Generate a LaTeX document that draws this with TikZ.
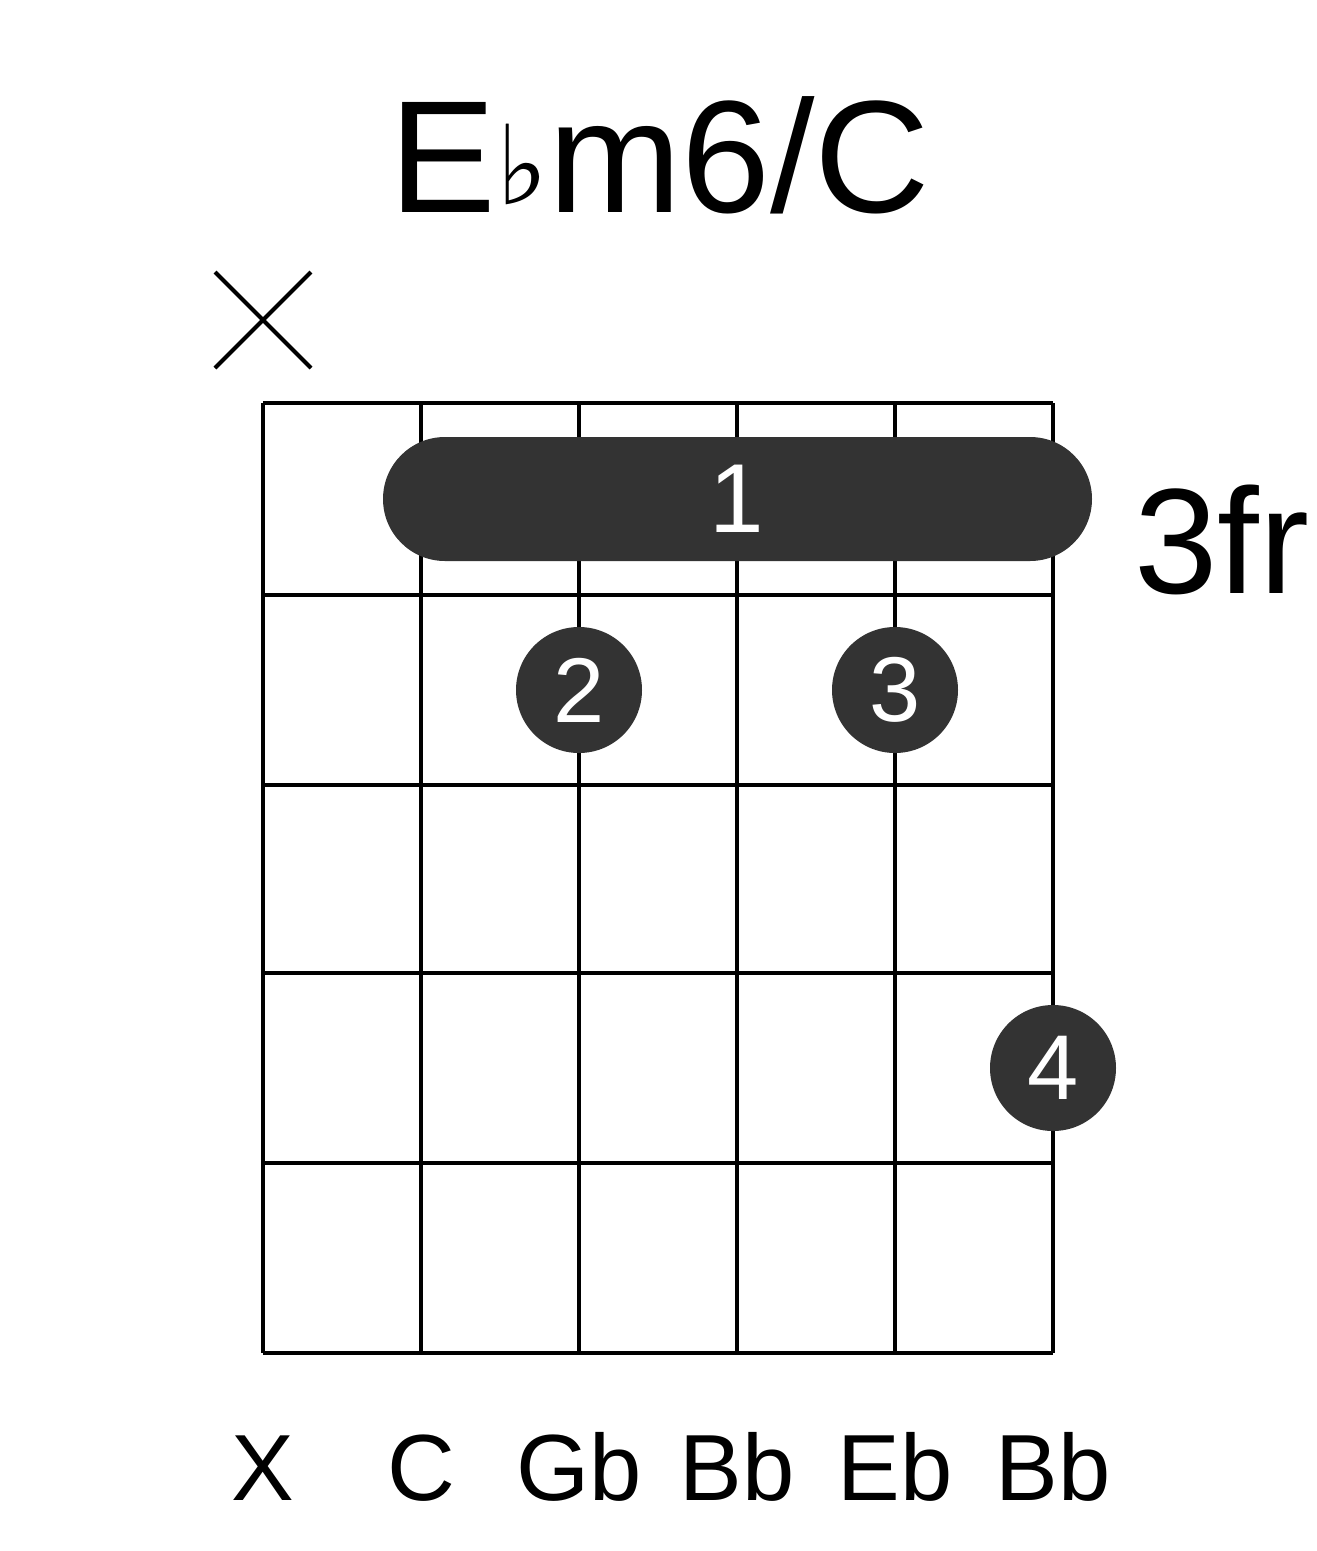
\documentclass[tikz,border=0pt]{standalone}
\usepackage{fontspec}
\setmainfont{Liberation Sans}
\newfontfamily\symfont{DejaVu Sans}
\usetikzlibrary{calc}
\begin{document}
\begin{tikzpicture}[x=1pt,y=-1pt,
	fingerdot/.style={circle, fill=black!80, minimum size=126pt, inner sep=0pt, text=white, font=\fontsize{92}{92}\selectfont},
	stringlabel/.style={font=\fontsize{94}{94}\selectfont, anchor=base}]
	% Canvas
	\useasboundingbox (0,0) rectangle (1317,1551);
	
	% Title
	\node (title) at (660,155) {\fontsize{160}{160}\selectfont E{\symfont\raisebox{0.05em}{\fontsize{110}{110}\selectfont ♭}}m6/C};
	
	% Muted string
	\coordinate (mx) at (263,320);
	\draw[line width=4pt] ($(mx)+(-48,-48)$) -- ($(mx)+(48,48)$) ($(mx)+(-48,48)$) -- ($(mx)+(48,-48)$);
	
	% Strings and frets
	\foreach \x in {263,421,579,737,895,1053} {
		\draw[line width=4pt] (\x,403) -- (\x,1353);
	}
	\foreach \y in {403,595,785,973,1163,1353} {
		\draw[line width=4pt] (263,\y) -- (1053,\y);
	}
	
	% Barre
	\fill[black!80, rounded corners=62pt] (383,437) rectangle (1092,561);
	\node[text=white, font=\fontsize{98}{98}\selectfont] (barre) at (737,499) {1};
	\node[font=\fontsize{150}{150}\selectfont] (fret) at (1222,540) {3fr};
	
	% Fingers
	\node[fingerdot] (f2) at (579,690) {2};
	\node[fingerdot] (f3) at (895,690) {3};
	\node[fingerdot] (f4) at (1053,1068) {4};
	
	% String names
	\foreach \x/\s in {263/X,421/C,579/Gb,737/Bb,895/Eb,1053/Bb} {
		\node[stringlabel] at (\x,1500) {\s};
	}
\end{tikzpicture}
\end{document}
